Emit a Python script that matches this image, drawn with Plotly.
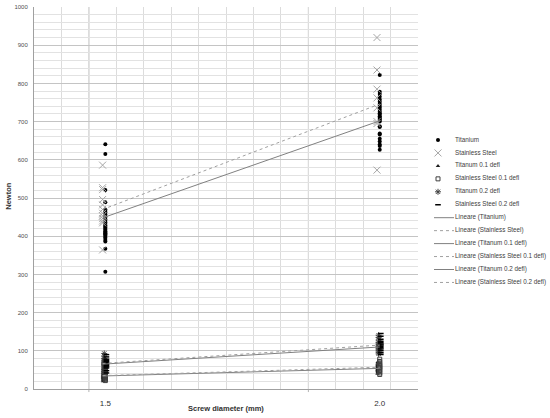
import numpy as np
import plotly.graph_objects as go

# Screw pull-out force (Newton) by screw diameter
diameters = [1.5, 2.0]

titanium_15 = [641, 615, 521, 489, 470, 466, 462, 457, 452, 448, 444, 440, 436, 432, 428,
               425, 422, 419, 416, 413, 410, 408, 405, 402, 398, 395, 390, 386, 367, 307]
titanium_20 = [822, 778, 772, 765, 758, 752, 746, 741, 736, 731, 726, 722, 718, 714, 710,
               707, 704, 700, 688, 686, 669, 666, 655, 648, 640, 636, 626]
stainless_15 = [586, 527, 522, 496, 482, 470, 460, 453, 446, 440, 435, 364]
stainless_20 = [920, 835, 785, 762, 736, 700, 695, 573]

ti01_15 = [20, 23, 25, 27, 29, 30, 32, 33, 35, 36, 38, 40, 42, 45, 48, 52]
ti01_20 = [40, 44, 47, 50, 52, 54, 56, 58, 60, 63, 66, 70]
ss01_15 = [22, 24, 26, 28, 30, 33, 35, 37, 39, 41, 44, 47, 55, 60]
ss01_20 = [38, 42, 46, 50, 53, 56, 58, 61, 64, 68, 72, 78]
ti02_15 = [45, 50, 54, 57, 60, 62, 64, 66, 68, 70, 73, 76, 80, 86, 93]
ti02_20 = [92, 96, 100, 104, 107, 110, 112, 115, 118, 122, 128, 135, 141]
ss02_15 = [42, 48, 55, 58, 61, 64, 66, 68, 70, 72, 75, 78, 84, 90]
ss02_20 = [90, 95, 100, 105, 108, 112, 115, 118, 121, 125, 130, 138, 145]

# linear trend lines (value at 1.5 and at 2.0)
trend_titanium = [448, 702]
trend_stainless = [470, 746]
trend_ti01 = [34, 54]
trend_ss01 = [35, 57]
trend_ti02 = [65, 110]
trend_ss02 = [67, 115]

labels = ['Titanium', 'Stainless Steel', 'Titanum 0.1 defl', 'Stainless Steel 0.1 defl',
          'Titanum 0.2 defl', 'Stainless Steel 0.2 defl',
          'Lineare (Titanium)', 'Lineare (Stainless Steel)', 'Lineare (Titanum 0.1 defl)',
          'Lineare (Stainless Steel 0.1 defl)', 'Lineare (Titanum 0.2 defl)',
          'Lineare (Stainless Steel 0.2 defl)']

FONT = 'Liberation Sans, Arial, sans-serif'
TREND_GREY = '#808080'
DOT_GREY = '#a0a0a0'

# (values at 1.5, values at 2.0, x offset, marker)
series = [
    (titanium_15, titanium_20, 0.0, dict(symbol='circle', size=4, color='black')),
    (stainless_15, stainless_20, -0.005, dict(symbol='x-thin-open', size=7, color='#a6a6a6', line=dict(color='#a6a6a6', width=1))),
    (ti01_15, ti01_20, -0.004, dict(symbol='triangle-up', size=4, color='#202020')),
    (ss01_15, ss01_20, 0.0, dict(symbol='square-open', size=4, color='#404040', line=dict(color='#404040', width=1))),
    (ti02_15, ti02_20, -0.002, dict(symbol='asterisk-open', size=5, color='#404040', line=dict(color='#404040', width=1))),
    (ss02_15, ss02_20, 0.002, dict(symbol='line-ew-open', size=4, color='black', line=dict(color='black', width=1.5))),
]
trends = [
    (trend_titanium, TREND_GREY, 'solid'),
    (trend_stainless, DOT_GREY, 'dot'),
    (trend_ti01, TREND_GREY, 'solid'),
    (trend_ss01, DOT_GREY, 'dot'),
    (trend_ti02, TREND_GREY, 'solid'),
    (trend_ss02, DOT_GREY, 'dot'),
]

fig = go.Figure()

for v15, v20, off, mk in series:
    xs = [diameters[0] + off] * len(v15) + [diameters[1] + off] * len(v20)
    fig.add_trace(go.Scatter(x=xs, y=v15 + v20, mode='markers', marker=mk,
                             showlegend=False, hoverinfo='skip'))

for vals, col, dash in trends:
    fig.add_trace(go.Scatter(x=[diameters[0] - 0.005, diameters[1]], y=vals, mode='lines',
                             line=dict(color=col, width=1, dash=dash),
                             showlegend=False, hoverinfo='skip'))

# hand-made compact legend on a pixel-scaled helper axis
row_y = [140 + 12.95 * i for i in range(len(labels))]
for i, (_, _, _, mk) in enumerate(series):
    fig.add_trace(go.Scatter(x=[438], y=[row_y[i]], mode='markers', marker=mk,
                             xaxis='x2', yaxis='y2', showlegend=False, hoverinfo='skip'))
for j, (_, col, dash) in enumerate(trends):
    r = row_y[6 + j]
    fig.add_trace(go.Scatter(x=[434, 454], y=[r, r], mode='lines',
                             line=dict(color=col, width=1, dash=dash),
                             xaxis='x2', yaxis='y2', showlegend=False, hoverinfo='skip'))
fig.add_trace(go.Scatter(x=[455] * len(labels), y=row_y, mode='text', text=labels,
                         textposition='middle right',
                         textfont=dict(family=FONT, size=6.3, color='#404040'),
                         xaxis='x2', yaxis='y2', showlegend=False, hoverinfo='skip'))

# darker vertical gridlines
for gx in [1.47, 1.87]:
    fig.add_shape(type='line', xref='x', yref='paper', x0=gx, x1=gx, y0=-0.008, y1=1,
                  line=dict(color='#b4b4b4', width=1), layer='below')

fig.update_layout(
    width=550, height=418,
    margin=dict(l=34, r=0, t=7, b=29, autoexpand=False),
    paper_bgcolor='white', plot_bgcolor='white',
    showlegend=False,
    xaxis=dict(domain=[0, 0.745], range=[1.37, 2.0705], automargin=False,
               tickmode='array', tickvals=diameters, ticktext=['1.5', '2.0'],
               showgrid=False, zeroline=False, showline=True, linecolor='#a0a0a0',
               ticks='', ticklabelstandoff=6,
               tickfont=dict(family=FONT, size=8, color='#303030'),
               minor=dict(tickmode='array', tickvals=list(np.round(np.arange(1.37, 2.08, 0.05), 3)),
                          showgrid=True, gridcolor='#dcdcdc', gridwidth=1, ticks='')),
    yaxis=dict(range=[0, 1000], dtick=100, showgrid=True, gridcolor='#c4c4c4', gridwidth=1,
               automargin=False,
               zeroline=False, showline=True, linecolor='#a0a0a0', ticks='',
               ticklabelstandoff=4,
               tickfont=dict(family=FONT, size=6, color='#505050'),
               minor=dict(dtick=20, showgrid=True, gridcolor='#e2e2e2', gridwidth=1, ticks='')),
    xaxis2=dict(domain=[0.75, 1], range=[421, 550], visible=False, anchor='y2'),
    yaxis2=dict(domain=[0, 1], range=[389, 7], visible=False, anchor='x2'),
    annotations=[
        dict(text='<b>Screw diameter (mm)</b>', xref='paper', yref='paper', x=0.3725, y=-0.05,
             xanchor='center', yanchor='middle', showarrow=False,
             font=dict(family=FONT, size=7.5, color='#303030')),
        dict(text='<b>Newton</b>', xref='paper', yref='paper', x=-0.051, y=0.505,
             xanchor='center', yanchor='middle', textangle=-90, showarrow=False,
             font=dict(family=FONT, size=7.5, color='#303030')),
    ],
)

# page body has a default 8px margin; drop it so the figure sits at the window corner
fig.write_html("out.html", config={'displayModeBar': False},
               post_script="document.body.style.margin='0';")
